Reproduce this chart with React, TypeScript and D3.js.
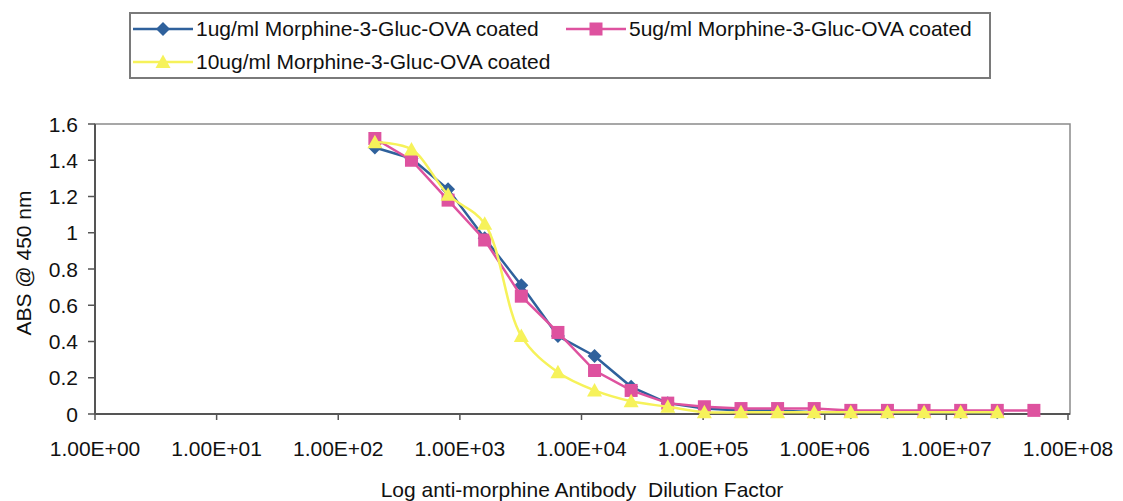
import React from "react";
import * as d3 from "d3";

const dilutions = [200, 400, 800, 1600, 3200, 6400, 12800, 25600, 51200, 102400, 204800, 409600, 819200, 1638400, 3276800, 6553600, 13107200, 26214400, 52428800];
const blueValues = [1.47, 1.41, 1.24, 0.97, 0.71, 0.43, 0.32, 0.15, 0.06, 0.03, 0.02, 0.02, 0.01, 0.01, 0.01, 0.01, 0.01, 0.01];
const pinkValues = [1.52, 1.40, 1.18, 0.96, 0.65, 0.45, 0.24, 0.13, 0.06, 0.04, 0.03, 0.03, 0.03, 0.02, 0.02, 0.02, 0.02, 0.02, 0.02];
const yellowValues = [1.50, 1.46, 1.21, 1.05, 0.43, 0.23, 0.13, 0.07, 0.04, 0.01, 0.01, 0.01, 0.01, 0.01, 0.01, 0.01, 0.01, 0.01];
const xTicks = [1, 1e1, 1e2, 1e3, 1e4, 1e5, 1e6, 1e7, 1e8];
const xTickLabels = ["1.00E+00", "1.00E+01", "1.00E+02", "1.00E+03", "1.00E+04", "1.00E+05", "1.00E+06", "1.00E+07", "1.00E+08"];
const yTicks = [0, 0.2, 0.4, 0.6, 0.8, 1, 1.2, 1.4, 1.6];
const yTickLabels = ["0", "0.2", "0.4", "0.6", "0.8", "1", "1.2", "1.4", "1.6"];
const seriesNames = [
  "1ug/ml Morphine-3-Gluc-OVA coated",
  "5ug/ml Morphine-3-Gluc-OVA coated",
  "10ug/ml Morphine-3-Gluc-OVA coated",
];

const W = 1123;
const H = 501;
const L = 95, R = 1070, T = 124, B = 414;
const FONT = "'Liberation Sans', Arial, sans-serif";

const BLUE = "#2f619c";
const PINK = "#de529f";
const YELLOW = "#f6f25a";

function Marker({ kind, x, y, color }: { kind: string; x: number; y: number; color: string }) {
  if (kind === "diamond") {
    const s = 7;
    return <path d={`M${x},${y - s}L${x + s},${y}L${x},${y + s}L${x - s},${y}Z`} fill={color} />;
  }
  if (kind === "square") {
    const s = 6.5;
    return <rect x={x - s} y={y - s} width={2 * s} height={2 * s} fill={color} />;
  }
  const s = 7.5;
  return <path d={`M${x},${y - s}L${x + s},${y + s * 0.8}L${x - s},${y + s * 0.8}Z`} fill={color} />;
}

export default function App() {
  const x = d3.scaleLog().domain([1, 1e8]).range([L, R - 2]);
  const y = d3.scaleLinear().domain([0, 1.6]).range([B, T]);

  const series = [
    { name: seriesNames[0], values: blueValues, color: BLUE, kind: "diamond", curve: d3.curveLinear },
    { name: seriesNames[1], values: pinkValues, color: PINK, kind: "square", curve: d3.curveLinear },
    { name: seriesNames[2], values: yellowValues, color: YELLOW, kind: "triangle", curve: d3.curveCatmullRom.alpha(0.5) },
  ];

  return (
    <svg width={W} height={H} style={{ position: "absolute", left: 0, top: 0, background: "#fff" }}>
      <rect x={0} y={0} width={W} height={H} fill="#fff" />
      {/* legend */}
      <rect x={130} y={13} width={860} height={65} fill="#fff" stroke="#7a7a7a" strokeWidth={2} />
      {[
        { lx: 133, ly: 29, s: series[0] },
        { lx: 566, ly: 29, s: series[1] },
        { lx: 133, ly: 62, s: series[2] },
      ].map((it, i) => (
        <g key={i}>
          <line x1={it.lx} x2={it.lx + 60} y1={it.ly} y2={it.ly} stroke={it.s.color} strokeWidth={2.5} />
          <Marker kind={it.s.kind} x={it.lx + 30} y={it.ly} color={it.s.color} />
          <text x={it.lx + 63} y={it.ly + 7} fontFamily={FONT} fontSize={21} fill="#111">{it.s.name}</text>
        </g>
      ))}

      {/* plot frame */}
      <rect x={L} y={T} width={R - L} height={B - T} fill="none" stroke="#8a8a8a" strokeWidth={1.5} />
      <line x1={L} x2={L} y1={T} y2={B} stroke="#555" strokeWidth={2} />
      <line x1={L} x2={R} y1={B} y2={B} stroke="#555" strokeWidth={2} />

      {/* y axis */}
      {yTicks.map((t, i) => (
        <g key={t}>
          <line x1={L - 7} x2={L} y1={y(t)} y2={y(t)} stroke="#555" strokeWidth={1.5} />
          <text x={78} y={y(t) + 7.5} textAnchor="end" fontFamily={FONT} fontSize={21} fill="#111">{yTickLabels[i]}</text>
        </g>
      ))}
      <text transform={`translate(31,263) rotate(-90)`} textAnchor="middle" fontFamily={FONT} fontSize={21} fill="#111">ABS @ 450 nm</text>

      {/* x axis */}
      {xTicks.map((t, i) => (
        <g key={t}>
          <line x1={x(t)} x2={x(t)} y1={B} y2={B + 6} stroke="#555" strokeWidth={1.5} />
          <text x={x(t)} y={456} textAnchor="middle" fontFamily={FONT} fontSize={21} fill="#111">{xTickLabels[i]}</text>
        </g>
      ))}
      <text x={582} y={497} textAnchor="middle" fontFamily={FONT} fontSize={21} fill="#111" style={{ whiteSpace: "pre" }}>
        Log anti-morphine Antibody  Dilution Factor
      </text>

      {/* series */}
      {series.map((s) => {
        const pts = s.values.map((v, i) => [x(dilutions[i]), y(v)] as [number, number]);
        const line = d3.line().curve(s.curve)(pts) || "";
        return (
          <g key={s.name}>
            <path d={line} fill="none" stroke={s.color} strokeWidth={2.5} />
            {pts.map((p, i) => (
              <Marker key={i} kind={s.kind} x={p[0]} y={p[1]} color={s.color} />
            ))}
          </g>
        );
      })}
    </svg>
  );
}
